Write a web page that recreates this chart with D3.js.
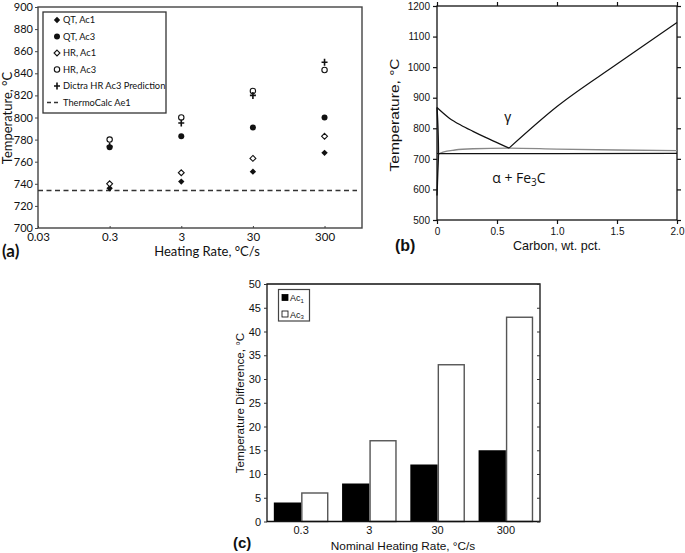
<!DOCTYPE html>
<html><head><meta charset="utf-8">
<script src="https://cdn.jsdelivr.net/npm/d3@7"></script>
<style>
body{margin:0;background:#fff;}
svg text{fill:#111;}
</style></head>
<body>
<svg id="fig" width="685" height="553"></svg>
<script>
// ---------- Panel (a) data ----------
const rates = [0.3, 3, 30, 300];
const rateTicks = [0.03, 0.3, 3, 30, 300];
const qtAc1 = [736, 742, 751, 768];
const qtAc3 = [773, 783, 791, 800];
const hrAc1 = [740, 750, 763, 783];
const hrAc3 = [780, 800, 824, 843];
const dictraAc3 = [774, 795, 820, 850];
const thermoCalcAe1 = 734;
const tempTicksA = [700, 720, 740, 760, 780, 800, 820, 840, 860, 880, 900];
const legendA = ["QT, Ac1", "QT, Ac3", "HR, Ac1", "HR, Ac3", "Dictra HR Ac3 Prediction", "ThermoCalc Ae1"];

// ---------- Panel (b) data (phase boundaries, [wt.% C, °C]) ----------
const a3Line = [[0,868],[0.1,834],[0.2,810],[0.3,790],[0.4,771],[0.5,753],[0.6,735]];
const acmLine = [[0.6,735],[1.0,871],[1.5,1010],[2.0,1146]];
const a1Upper = [[0,713],[0.05,722],[0.15,729],[0.3,733],[0.6,735],[1.0,732],[1.5,729],[2.0,727]];
const a1Lower = [[0,717],[1.0,717],[2.0,718]];
const ferriteSolvus = [[0,868],[0.008,800],[0.012,716],[0.006,650],[0,580]];
const carbonTicks = [0, 0.5, 1.0, 1.5, 2.0];
const tempTicksB = [500, 600, 700, 800, 900, 1000, 1100, 1200];

// ---------- Panel (c) data ----------
const nominalRates = ["0.3", "3", "30", "300"];
const diffAc1 = [4, 8, 12, 15];
const diffAc3 = [6, 17, 33, 43];
const diffTicks = [0, 5, 10, 15, 20, 25, 30, 35, 40, 45, 50];

const svg = d3.select("#fig");
svg.append("rect").attr("width",685).attr("height",553).attr("fill","#fff");

// =================== (a) ===================
{
  const fa = "Lato, 'Open Sans', sans-serif";
  const g = svg.append("g");
  const x = d3.scaleLog().domain([0.03, 1000]).range([38, 362]);
  const y = d3.scaleLinear().domain([700, 900]).range([228, 7]);

  g.append("rect").attr("x",38).attr("y",7).attr("width",324).attr("height",221)
    .attr("fill","none").attr("stroke","#444").attr("stroke-width",1.4);

  const ya = d3.axisLeft(y).tickValues(tempTicksA).tickSize(3).tickPadding(2).tickFormat(d3.format("d"));
  const yg = g.append("g").attr("transform","translate(38,0)").call(ya);
  yg.select(".domain").remove();
  yg.selectAll("line").attr("stroke","#444");
  yg.selectAll("text").attr("font-family",fa).attr("font-size",11).attr("fill","#222");

  const xa = d3.axisBottom(x).tickValues(rateTicks).tickSize(-2).tickPadding(5).tickFormat(d => String(d));
  const xg = g.append("g").attr("transform","translate(0,228)").call(xa);
  xg.select(".domain").remove();
  xg.selectAll("line").attr("stroke","#444");
  xg.selectAll("text").attr("font-family",fa).attr("font-size",11.5).attr("fill","#222");

  g.append("line").attr("x1",38).attr("x2",357).attr("y1",y(thermoCalcAe1)).attr("y2",y(thermoCalcAe1))
    .attr("stroke","#333").attr("stroke-width",1.5).attr("stroke-dasharray","5,3.5");

  const plus = (sel, cx, cy) => {
    sel.append("path").attr("d",`M${cx-3},${cy}H${cx+3}M${cx},${cy-3.5}V${cy+3.5}`)
      .attr("stroke","#111").attr("stroke-width",1.6).attr("fill","none");
  };
  const drawMarker = (sel, type, cx, cy) => {
    if (type === 0) sel.append("path").attr("d",d3.symbol().type(d3.symbolDiamond2).size(26)).attr("transform",`translate(${cx},${cy})`).attr("fill","#111");
    else if (type === 1) sel.append("circle").attr("cx",cx).attr("cy",cy).attr("r",3).attr("fill","#111");
    else if (type === 2) sel.append("path").attr("d",d3.symbol().type(d3.symbolDiamond2).size(22)).attr("transform",`translate(${cx},${cy})`).attr("fill","#fff").attr("stroke","#111").attr("stroke-width",1.1);
    else if (type === 3) sel.append("circle").attr("cx",cx).attr("cy",cy).attr("r",2.7).attr("fill","#fff").attr("stroke","#111").attr("stroke-width",1.1);
    else if (type === 4) plus(sel, cx, cy);
  };
  const series = [qtAc1, qtAc3, hrAc1, hrAc3, dictraAc3];
  series.forEach((vals, si) => {
    vals.forEach((v, i) => drawMarker(g, si, x(rates[i]), y(v)));
  });

  const lg = g.append("g");
  lg.append("rect").attr("x",43).attr("y",12).attr("width",123).attr("height",101)
    .attr("fill","#fff").attr("stroke","#333").attr("stroke-width",1.3);
  const ly = [20, 36.5, 53, 69.5, 86, 102.5];
  legendA.forEach((t, i) => {
    if (i < 5) drawMarker(lg, i, 57, ly[i]);
    else lg.append("line").attr("x1",47).attr("x2",59).attr("y1",ly[i]).attr("y2",ly[i])
      .attr("stroke","#333").attr("stroke-width",1.4).attr("stroke-dasharray","4,3");
    lg.append("text").attr("x",63).attr("y",ly[i]+3.3).attr("font-family",fa).attr("font-size",9.3).text(t);
  });

  g.append("text").attr("transform","translate(12,118) rotate(-90)").attr("text-anchor","middle")
    .attr("font-family",fa).attr("font-size",13).text("Temperature, °C");
  g.append("text").attr("x",207).attr("y",256).attr("text-anchor","middle")
    .attr("font-family",fa).attr("font-size",13).text("Heating Rate, °C/s");
  g.append("text").attr("x",2).attr("y",257).attr("font-family",fa).attr("font-weight","bold")
    .attr("font-size",17).text("(a)");
}

// =================== (b) ===================
{
  const fb = "'Liberation Sans', Arial, sans-serif";
  const g = svg.append("g");
  const x = d3.scaleLinear().domain([0, 2]).range([437, 677]);
  const y = d3.scaleLinear().domain([500, 1200]).range([220, 6]);

  g.append("rect").attr("x",437).attr("y",6).attr("width",240).attr("height",214)
    .attr("fill","none").attr("stroke","#111").attr("stroke-width",1.3);

  const styleAxis = (sel) => { sel.select(".domain").remove(); sel.selectAll("line").attr("stroke","#111").attr("stroke-width",1.2); };
  g.append("g").attr("transform","translate(437,0)")
    .call(d3.axisLeft(y).tickValues(tempTicksB).tickSize(4).tickPadding(3).tickFormat(d3.format("d")))
    .call(styleAxis).selectAll("text").attr("font-family",fb).attr("font-size",10).attr("fill","#222");
  g.append("g").attr("transform","translate(677,0)")
    .call(d3.axisRight(y).tickValues(tempTicksB).tickSize(4).tickFormat(""))
    .call(styleAxis);
  g.append("g").attr("transform","translate(0,220)")
    .call(d3.axisBottom(x).tickValues(carbonTicks).tickSize(4).tickPadding(4).tickFormat(d => d === 0 ? "0" : d3.format(".1f")(d)))
    .call(styleAxis).selectAll("text").attr("font-family",fb).attr("font-size",10).attr("fill","#222");
  g.append("g").attr("transform","translate(0,6)")
    .call(d3.axisTop(x).tickValues(carbonTicks).tickSize(4).tickFormat(""))
    .call(styleAxis);

  const line = d3.line().x(d => x(d[0])).y(d => y(d[1])).curve(d3.curveMonotoneX);
  const lineC = d3.line().x(d => x(d[0])).y(d => y(d[1])).curve(d3.curveCatmullRom);
  g.append("path").attr("d",line(a1Upper)).attr("fill","none").attr("stroke","#888").attr("stroke-width",1.3);
  g.append("path").attr("d",line(a1Lower)).attr("fill","none").attr("stroke","#111").attr("stroke-width",1.2);
  g.append("path").attr("d",lineC(a3Line)).attr("fill","none").attr("stroke","#111").attr("stroke-width",1.2);
  g.append("path").attr("d",line(acmLine)).attr("fill","none").attr("stroke","#111").attr("stroke-width",1.2);
  g.append("path").attr("d",lineC(ferriteSolvus)).attr("fill","none").attr("stroke","#111").attr("stroke-width",1.4);

  g.append("text").attr("x",x(0.59)).attr("y",y(822)).attr("text-anchor","middle")
    .attr("font-family",fb).attr("font-size",14).text("γ");
  const at = g.append("text").attr("x",x(0.46)).attr("y",y(621)).attr("font-family","'Open Sans', sans-serif").attr("font-size",14);
  at.append("tspan").text("α + Fe");
  at.append("tspan").attr("font-size",10).attr("dy",3).text("3");
  at.append("tspan").attr("dy",-3).text("C");

  g.append("text").attr("transform","translate(399,115) rotate(-90)").attr("text-anchor","middle")
    .attr("font-family",fb).attr("font-size",13.5).attr("textLength",113).attr("lengthAdjust","spacingAndGlyphs").text("Temperature, °C");
  g.append("text").attr("x",557).attr("y",250).attr("text-anchor","middle")
    .attr("font-family",fb).attr("font-size",13).attr("textLength",88).attr("lengthAdjust","spacingAndGlyphs").text("Carbon, wt. pct.");
  g.append("text").attr("x",395).attr("y",251).attr("font-family",fb).attr("font-weight","bold")
    .attr("font-size",16).text("(b)");
}

// =================== (c) ===================
{
  const fc = "'Liberation Sans', Arial, sans-serif";
  const g = svg.append("g");
  const x = d3.scaleBand().domain(nominalRates).range([267, 540]).paddingInner(0.2).paddingOuter(0.1);
  const y = d3.scaleLinear().domain([0, 50]).range([521.5, 284]);

  const bw = x.bandwidth() / 2;
  nominalRates.forEach((r, i) => {
    g.append("rect").attr("x",x(r)).attr("y",y(diffAc1[i])).attr("width",bw).attr("height",y(0)-y(diffAc1[i]))
      .attr("fill","#000");
    g.append("rect").attr("x",x(r)+bw+0.7).attr("y",y(diffAc3[i])).attr("width",bw-1.4).attr("height",y(0)-y(diffAc3[i]))
      .attr("fill","#fff").attr("stroke","#555").attr("stroke-width",1.4);
  });

  g.append("path").attr("d",`M267,284H540V521.5H267Z`).attr("fill","none").attr("stroke","#111").attr("stroke-width",1.3);
  const styleAxis = (sel) => { sel.select(".domain").remove(); sel.selectAll("line").attr("stroke","#333"); };
  g.append("g").attr("transform","translate(267,0)")
    .call(d3.axisLeft(y).tickValues(diffTicks).tickSize(3).tickPadding(3))
    .call(styleAxis).selectAll("text").attr("font-family",fc).attr("font-size",11).attr("fill","#222");
  g.append("g").attr("transform","translate(540,0)")
    .call(d3.axisLeft(y).tickValues(diffTicks).tickSize(3).tickFormat(""))
    .call(styleAxis);
  g.append("g").attr("transform","translate(0,521.5)")
    .call(d3.axisBottom(x).tickSize(0).tickPadding(5))
    .call(styleAxis).selectAll("text").attr("font-family",fc).attr("font-size",11).attr("fill","#222");

  g.append("rect").attr("x",278.5).attr("y",289.5).attr("width",31).attr("height",31.5)
    .attr("fill","#fff").attr("stroke","#444").attr("stroke-width",1.2);
  const items = [["#000", "1", 298], ["#fff", "3", 314.5]];
  items.forEach(([c, s, yy]) => {
    g.append("rect").attr("x",282).attr("y",yy-3.5).attr("width",6).attr("height",6)
      .attr("fill",c).attr("stroke","#000").attr("stroke-width",0.8);
    const t = g.append("text").attr("x",290).attr("y",yy+3).attr("font-family",fc).attr("font-size",9);
    t.append("tspan").text("Ac");
    t.append("tspan").attr("font-size",6).attr("dy",1.5).text(s);
  });

  g.append("text").attr("transform","translate(244,403) rotate(-90)").attr("text-anchor","middle")
    .attr("font-family",fc).attr("font-size",11.6).text("Temperature Difference, °C");
  g.append("text").attr("x",403).attr("y",550).attr("text-anchor","middle")
    .attr("font-family",fc).attr("font-size",11.8).text("Nominal Heating Rate, °C/s");
  g.append("text").attr("x",233).attr("y",548).attr("font-family",fc).attr("font-weight","bold")
    .attr("font-size",15).text("(c)");
}
</script>
</body></html>
